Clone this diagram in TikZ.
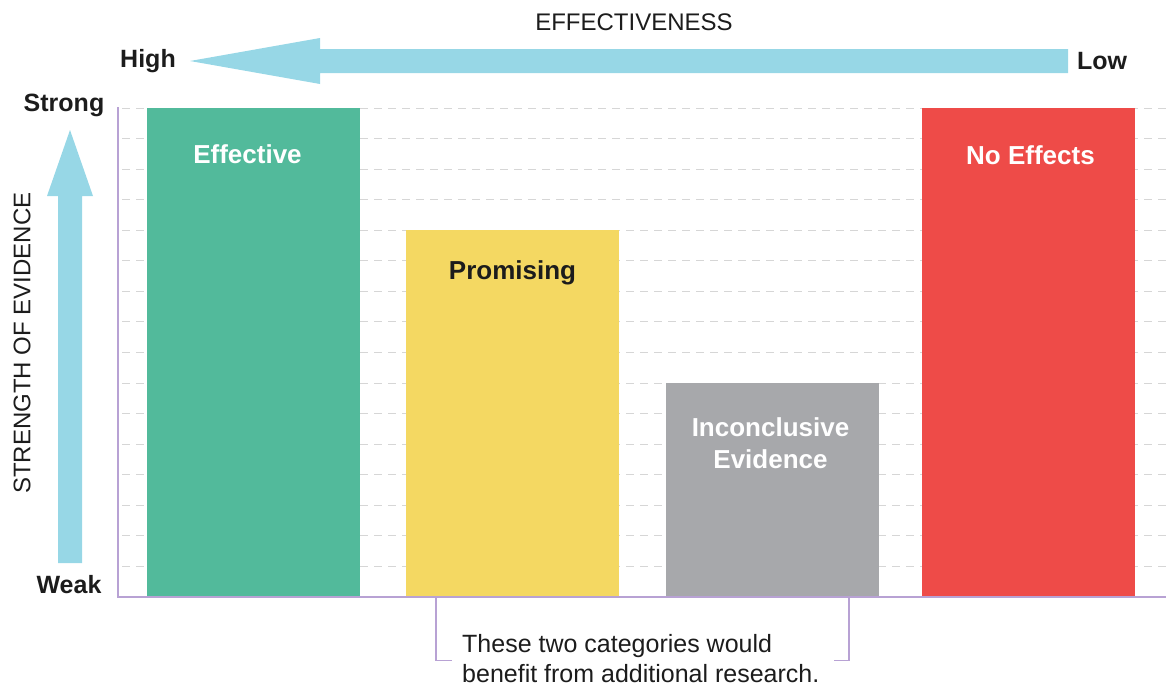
\documentclass[tikz,border=0pt]{standalone}
\usepackage{fontspec}
\setmainfont{Liberation Sans}
\usepackage{tikz}
\usetikzlibrary{positioning}
\definecolor{effgreen}{HTML}{52BA9B}
\definecolor{promyellow}{HTML}{F4D862}
\definecolor{incgray}{HTML}{A7A8AB}
\definecolor{noered}{HTML}{EE4B48}
\definecolor{arrowblue}{HTML}{97D7E6}
\definecolor{axispurple}{HTML}{B8A2D4}
\definecolor{gridgray}{HTML}{D6D6D6}
\definecolor{inkdark}{HTML}{1C1C1C}
\tikzset{bar/.style={rectangle,inner sep=0pt,outer sep=0pt,minimum width=213pt,anchor=south west}}
\tikzset{barlabel/.style={font=\fontsize{26}{32}\selectfont\bfseries,align=center,inner sep=0pt}}
\tikzset{end/.style={font=\fontsize{25}{25}\selectfont\bfseries,text=inkdark,inner sep=0pt}}
\tikzset{title/.style={font=\fontsize{24}{24}\selectfont,text=inkdark,inner sep=0pt}}
\tikzset{axis/.style={axispurple,line width=1.6pt}}
\tikzset{grid/.style={gridgray,line width=1pt,dash pattern=on 8pt off 6pt}}
\tikzset{fat/.style={fill=arrowblue,draw=none}}

\begin{document}
\begin{tikzpicture}[x=1pt,y=-1pt]
  \useasboundingbox (0,0) rectangle (1166,688);
  \foreach \i in {0,...,15}
    \draw[grid] (122,108+\i*30.5625) -- (1166,108+\i*30.5625);
  \node[bar,fill=effgreen,minimum height=489pt] (eff) at (147,597) {};
  \node[bar,fill=promyellow,minimum height=367pt] (prom) at (406,597) {};
  \node[bar,fill=incgray,minimum height=214pt] (inc) at (666,597) {};
  \node[bar,fill=noered,minimum height=489pt] (noe) at (922,597) {};
  \node[barlabel,text=white] (effT) at ([xshift=-6pt,yshift=-46pt]eff.north) {Effective};
  \node[barlabel,text=inkdark] (promT) at ([yshift=-43pt]prom.north) {Promising};
  \node[barlabel,text=white] (incT) at ([xshift=-2pt,yshift=-60pt]inc.north) {Inconclusive\\Evidence};
  \node[barlabel,text=white] (noeT) at ([xshift=2pt,yshift=-47pt]noe.north) {No Effects};
  \coordinate (origin) at (118,597);
  \coordinate (ytop) at (118,107);
  \coordinate (xend) at (1166,597);
  \draw[axis] (ytop) -- (origin) -- (xend);
  \coordinate (brL) at (436,597);
  \coordinate (brR) at (849,597);
  \node[title,font=\fontsize{25}{30}\selectfont,align=left,anchor=north west] (note) at (462,634)
    {These two categories would\\benefit from additional research.};
  \draw[axis] (brL) |- ([xshift=-10pt,yshift=-2pt]note.west);
  \draw[axis] (brR) |- ([xshift=-15pt,yshift=-2pt]note.west -| brR);
  \node[title] (effx) at (634,22) {EFFECTIVENESS};
  \node[end] (high) at (148,61) {High};
  \node[end] (low) at (1102,61) {Low};
  \coordinate (hstart) at (1068,61);
  \coordinate (hbase) at (320,61);
  \coordinate (htip) at (190,61);
  \fill[fat] (htip) -- ([yshift=23pt]hbase) -- ([yshift=12pt]hbase) -- ([yshift=12pt]hstart)
    -- ([yshift=-12pt]hstart) -- ([yshift=-12pt]hbase) -- ([yshift=-23pt]hbase) -- cycle;
  \node[end] (strong) at (64,105) {Strong};
  \node[end] (weak) at (69,585) {Weak};
  \coordinate (vstart) at (70,563);
  \coordinate (vbase) at (70,196);
  \coordinate (vtip) at (70,130);
  \fill[fat] (vtip) -- ([xshift=23pt]vbase) -- ([xshift=12pt]vbase) -- ([xshift=12pt]vstart)
    -- ([xshift=-12pt]vstart) -- ([xshift=-12pt]vbase) -- ([xshift=-23pt]vbase) -- cycle;
  \node[title,rotate=90] (strength) at (22,343) {STRENGTH OF EVIDENCE};
\end{tikzpicture}
\end{document}
